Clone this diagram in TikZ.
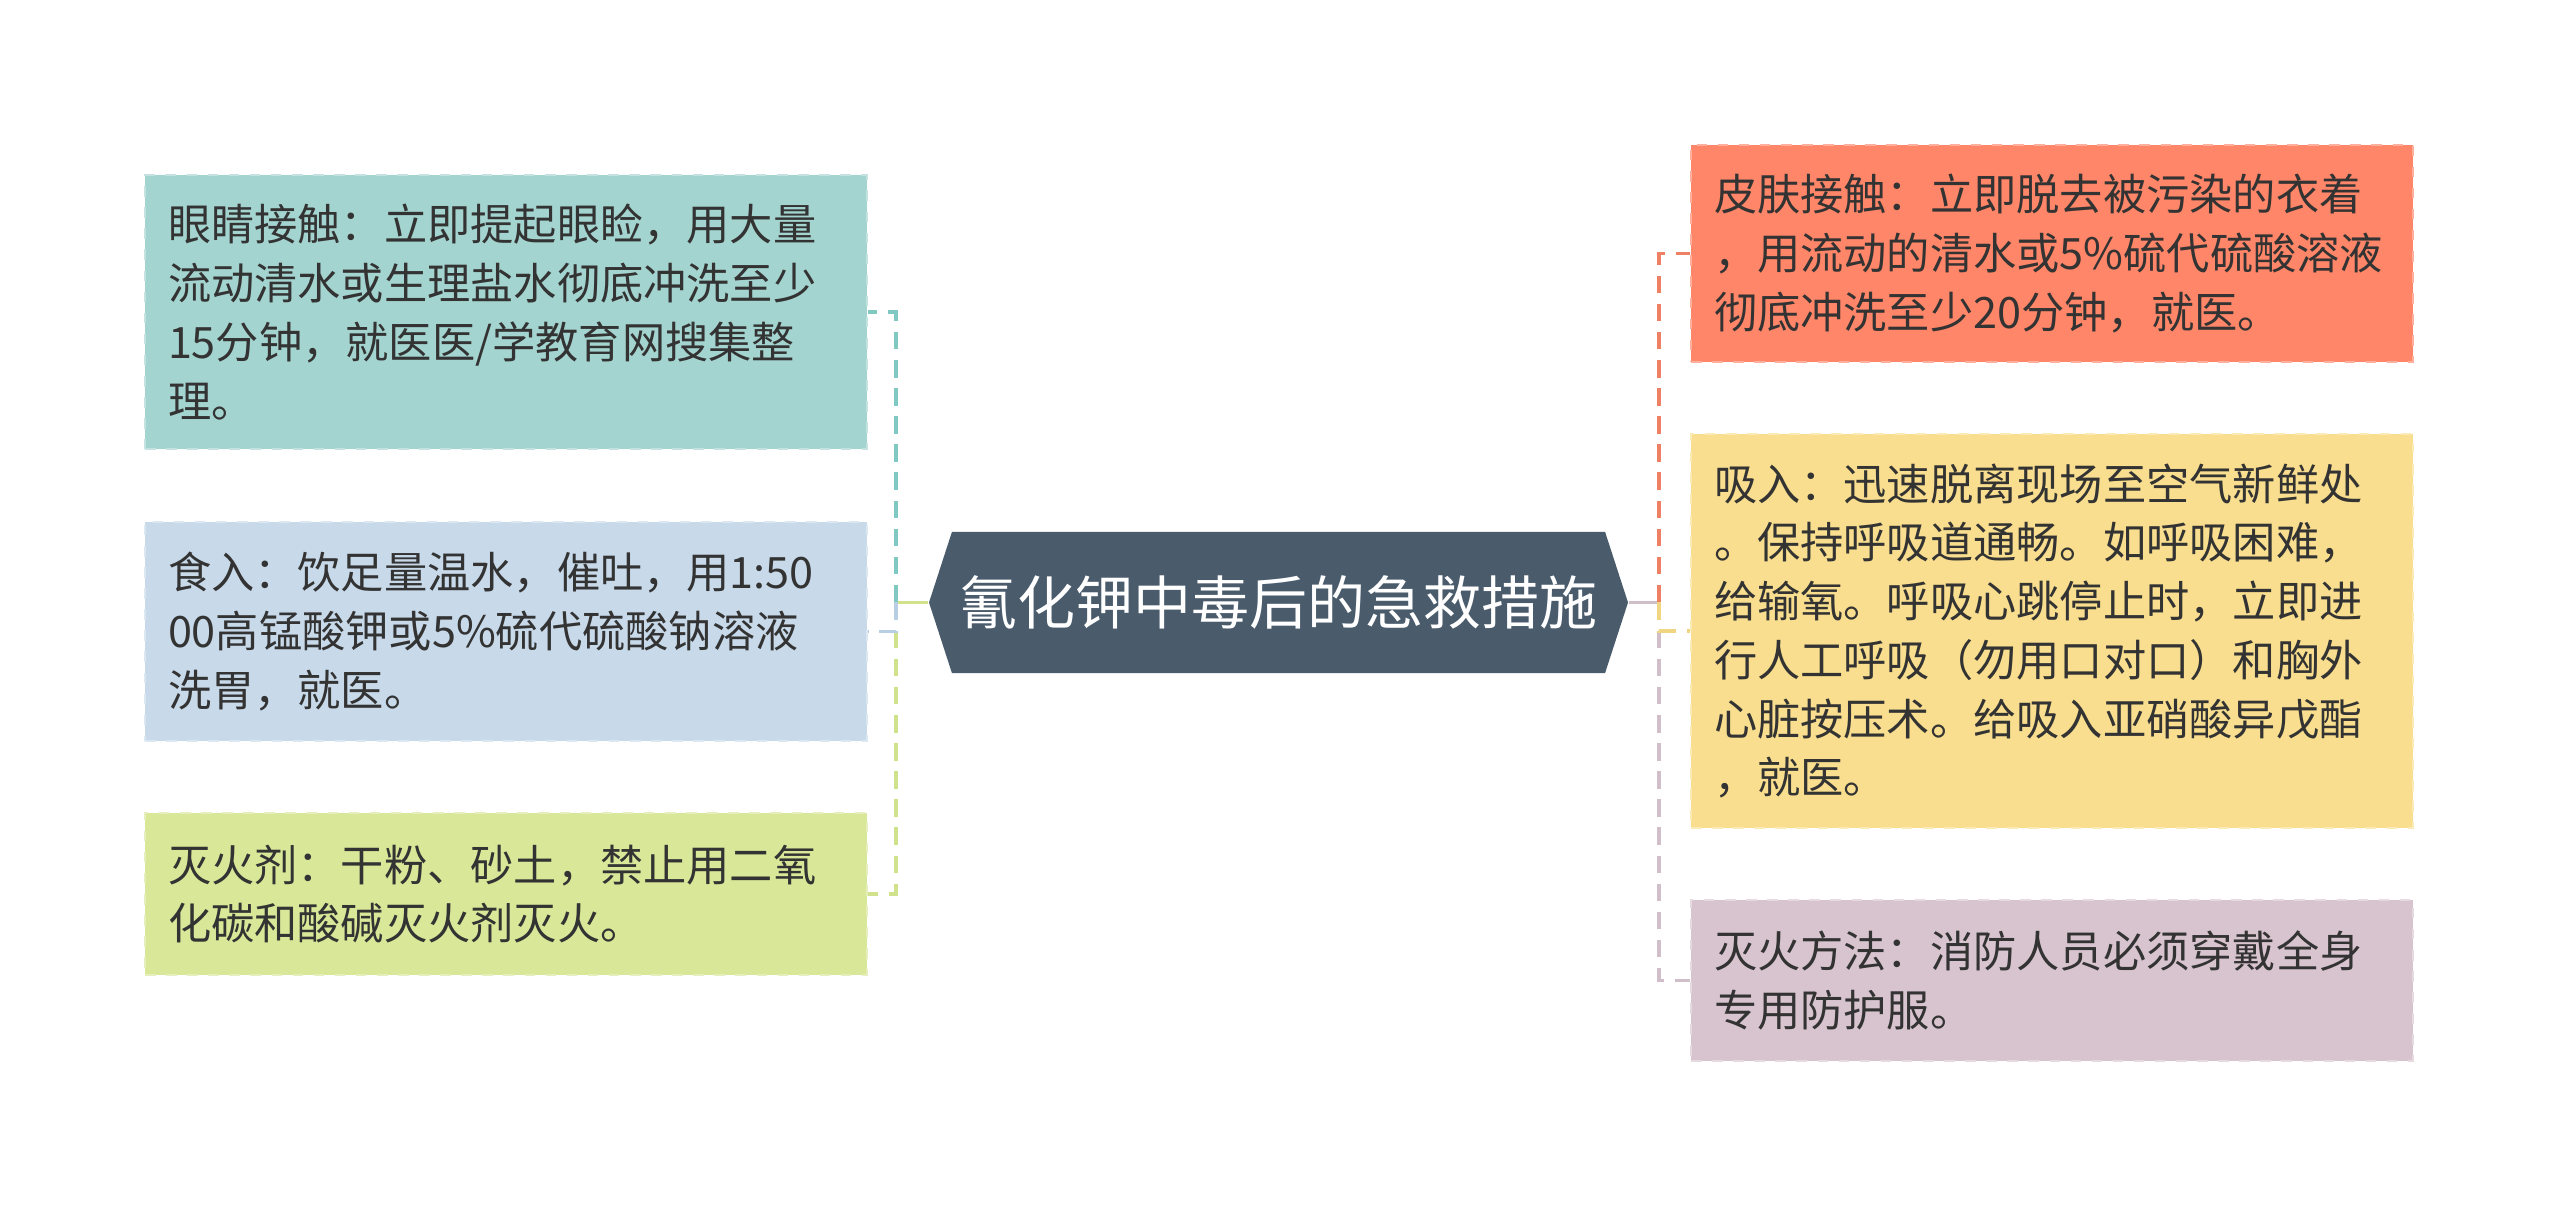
\documentclass[tikz,border=0pt]{standalone}
\usepackage{fontspec}
\setmainfont{Noto Sans CJK SC}
\usetikzlibrary{shapes.symbols}

\definecolor{txtgray}{RGB}{51,51,51}
\definecolor{hubfill}{RGB}{74,91,108}
\definecolor{eyefill}{RGB}{164,212,207}
\definecolor{eyeline}{RGB}{128,200,194}
\definecolor{eatfill}{RGB}{200,218,234}
\definecolor{eatline}{RGB}{184,206,228}
\definecolor{agentfill}{RGB}{217,231,152}
\definecolor{agentline}{RGB}{208,226,140}
\definecolor{skinfill}{RGB}{255,134,104}
\definecolor{skinline}{RGB}{238,128,100}
\definecolor{airfill}{RGB}{248,222,142}
\definecolor{airline}{RGB}{240,214,130}
\definecolor{firefill}{RGB}{216,196,206}
\definecolor{fireline}{RGB}{208,190,200}

\tikzset{
  leaf/.style={rectangle, text width=6.76cm, inner xsep=0.23cm, inner ysep=0pt,
    align=left, text=txtgray, dashed, line width=0.8pt,
    font=\fontsize{12.3pt}{16.7pt}\selectfont},
  link/.style={line width=1.1pt, dash pattern=on 5pt off 3pt}
}

\begin{document}
\begin{tikzpicture}[x=1cm,y=1cm]
  \useasboundingbox (0,0) rectangle (25.6,-12.07);

  \node[signal, signal to=west and east, signal pointer angle=144, fill=hubfill,
        text=white, font=\fontsize{16.5pt}{20pt}\selectfont,
        minimum width=6.99cm, minimum height=1.41cm, inner sep=0pt] (hub) at (12.785,-6.025)
        {氰化钾中毒后的急救措施};

  % left side
  \node[leaf, fill=eyefill, draw=white!35!eyefill, minimum height=2.74cm] (eye) at (5.06,-3.12)
    {眼睛接触：立即提起眼睑，用大量\\流动清水或生理盐水彻底冲洗至少\\15分钟，就医医/学教育网搜集整\\理。};
  \node[leaf, fill=eatfill, draw=white!35!eatfill, minimum height=2.19cm] (eat) at (5.06,-6.315)
    {食入：饮足量温水，催吐，用1:50\\00高锰酸钾或5\%硫代硫酸钠溶液\\洗胃，就医。};
  \node[leaf, fill=agentfill, draw=white!35!agentfill, minimum height=1.62cm] (agent) at (5.06,-8.94)
    {灭火剂：干粉、砂土，禁止用二氧\\化碳和酸碱灭火剂灭火。};

  % right side
  \node[leaf, fill=skinfill, draw=white!35!skinfill, minimum height=2.17cm] (skin) at (20.52,-2.535)
    {皮肤接触：立即脱去被污染的衣着\\，用流动的清水或5\%硫代硫酸溶液\\彻底冲洗至少20分钟，就医。};
  \node[leaf, fill=airfill, draw=white!35!airfill, minimum height=3.94cm] (air) at (20.52,-6.31)
    {吸入：迅速脱离现场至空气新鲜处\\。保持呼吸道通畅。如呼吸困难，\\给输氧。呼吸心跳停止时，立即进\\行人工呼吸（勿用口对口）和胸外\\心脏按压术。给吸入亚硝酸异戊酯\\，就医。};
  \node[leaf, fill=firefill, draw=white!35!firefill, minimum height=1.61cm] (fire) at (20.52,-9.805)
    {灭火方法：消防人员必须穿戴全身\\专用防护服。};

  \coordinate (lj) at (8.96,-6.025);
  \coordinate (rj) at (16.59,-6.025);

  \draw[line width=1.1pt, agentline] (hub.west) -- (lj);
  \draw[line width=1.1pt, fireline] (hub.east) -- (rj);

  \draw[link, eyeline] (lj) |- (eye.east);
  \draw[link, agentline] (lj) |- (agent.east);
  \draw[link, eatline] (lj) |- (eat.east);

  \draw[link, skinline] (rj) |- (skin.west);
  \draw[link, fireline] (rj) |- (fire.west);
  \draw[link, airline] (rj) |- (air.west);
\end{tikzpicture}
\end{document}
